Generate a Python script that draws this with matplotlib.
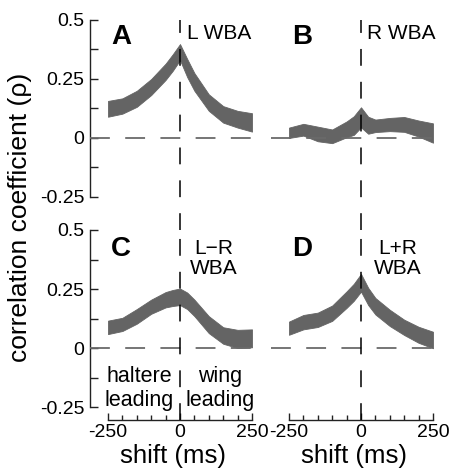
import numpy as np
import matplotlib
matplotlib.use('Agg')
import matplotlib.pyplot as plt
from matplotlib.ticker import FixedLocator

plt.rcParams['font.family'] = ['Liberation Sans', 'DejaVu Sans']
plt.rcParams['axes.unicode_minus'] = False

# time shift (ms) of the cross-correlation samples
shift = [-250, -200, -150, -100, -50, -25, 0, 25, 50, 100, 150, 200, 250]

# upper / lower edge of the correlation band for each signal
a_hi = [0.157, 0.168, 0.200, 0.250, 0.315, 0.355, 0.398, 0.335, 0.275, 0.185, 0.135, 0.115, 0.105]
a_lo = [0.090, 0.103, 0.132, 0.182, 0.246, 0.285, 0.330, 0.258, 0.200, 0.115, 0.065, 0.044, 0.027]

b_hi = [0.044, 0.060, 0.048, 0.036, 0.070, 0.092, 0.130, 0.090, 0.078, 0.085, 0.089, 0.074, 0.062]
b_lo = [0.000, 0.010, -0.014, -0.022, 0.003, 0.013, 0.045, 0.018, 0.025, 0.029, 0.026, 0.006, -0.020]

c_hi = [0.116, 0.128, 0.165, 0.205, 0.237, 0.246, 0.252, 0.235, 0.205, 0.135, 0.088, 0.077, 0.079]
c_lo = [0.059, 0.072, 0.103, 0.145, 0.172, 0.178, 0.182, 0.165, 0.135, 0.063, 0.018, 0.000, 0.003]

d_hi = [0.112, 0.140, 0.150, 0.180, 0.240, 0.272, 0.314, 0.255, 0.212, 0.162, 0.120, 0.090, 0.069]
d_lo = [0.056, 0.079, 0.089, 0.115, 0.170, 0.200, 0.239, 0.182, 0.142, 0.093, 0.055, 0.022, -0.001]

letters = ['A', 'B', 'C', 'D']
labels = ['L WBA', 'R WBA', 'L\u2212R\nWBA', 'L+R\nWBA']
ytick_vals = [0.5, 0.25, 0, -0.25]
ytick_txt = ['0.5', '0.25', '0', '-0.25']

band_col = '#646464'

fig = plt.figure(figsize=(4.52, 4.75), dpi=100)
W, H = 452.0, 475.0

# axes boxes in pixels: left, top, right, bottom
boxes = [(90, 20, 255.6, 230), (271, 20, 436.6, 230),
         (90, 230, 255.6, 420), (271, 230, 436.6, 420)]
ylims = [(-0.39, 0.5), (-0.39, 0.5), (-0.305, 0.5), (-0.305, 0.5)]
bands = [(a_hi, a_lo), (b_hi, b_lo), (c_hi, c_lo), (d_hi, d_lo)]

axes = []
for i, (l, t, r, b) in enumerate(boxes):
    ax = fig.add_axes([l / W, 1 - b / H, (r - l) / W, (b - t) / H])
    ax.set_xlim(-312.5, 262.5)
    ax.set_ylim(*ylims[i])
    ax.patch.set_alpha(0)
    for s in ['top', 'right']:
        ax.spines[s].set_visible(False)

    hi, lo = bands[i]
    ax.fill_between(shift, lo, hi, color=band_col, lw=0.6, ec=band_col,
                    zorder=2)
    ax.axhline(0, color='#6a6a6a', lw=1.3, dashes=(11, 8.5), zorder=3)
    ax.axvline(0, color='black', lw=1.1, dashes=(11, 10.5), zorder=3)

    # y axis only on the left column
    if i % 2 == 0:
        ax.spines['left'].set_bounds(-0.25, 0.5)
        ax.spines['left'].set_linewidth(1.0)
        ax.spines['left'].set_color('#222222')
        ax.set_yticks(ytick_vals)
        ax.set_yticklabels(ytick_txt)
        ax.yaxis.set_minor_locator(FixedLocator([0.375, 0.125, -0.125]))
        ax.tick_params(axis='y', which='both', direction='in', length=5.5,
                       width=1.0, color='#222222', labelsize=14, pad=4)
    else:
        ax.spines['left'].set_visible(False)
        ax.set_yticks([])

    # x axis only on the bottom row
    if i >= 2:
        ax.spines['bottom'].set_bounds(-250, 250)
        ax.spines['bottom'].set_linewidth(1.0)
        ax.spines['bottom'].set_color('#222222')
        ax.set_xticks([-250, 0, 250])
        ax.set_xticklabels(['-250', '0', '250'])
        ax.xaxis.set_minor_locator(FixedLocator(np.arange(-200, 250, 50)))
        ax.tick_params(axis='x', which='major', direction='in', length=5,
                       width=1.0, color='#222222', labelsize=14, pad=3)
        ax.tick_params(axis='x', which='minor', direction='in', length=3.5,
                       width=1.0, color='#222222')
        ax.set_xlabel('shift (ms)', fontsize=18.5, labelpad=2)
    else:
        ax.spines['bottom'].set_visible(False)
        ax.set_xticks([])

    ytxt = 0.426 if i < 2 else 0.42
    ax.text(-205, ytxt, letters[i], fontsize=20, fontweight='bold',
            ha='center', va='center')
    axes.append(ax)

# signal names
axes[0].text(24, 0.443, labels[0], fontsize=15, ha='left', va='center')
axes[1].text(20, 0.443, labels[1], fontsize=15, ha='left', va='center')
axes[2].text(118, 0.379, labels[2], fontsize=15, ha='center', va='center',
             linespacing=1.1)
axes[3].text(128, 0.379, labels[3], fontsize=15, ha='center', va='center',
             linespacing=1.1)

# which signal leads
axes[2].text(-142, -0.172, 'haltere\nleading', fontsize=15.5, ha='center',
             va='center', linespacing=1.2)
axes[2].text(139, -0.172, 'wing\nleading', fontsize=15.5, ha='center',
             va='center', linespacing=1.2)

fig.text(20 / W, 1 - 217 / H, 'correlation coefficient (\u03c1)', fontsize=19,
         rotation=90, ha='center', va='center')

fig.savefig('out.png', dpi=100)
